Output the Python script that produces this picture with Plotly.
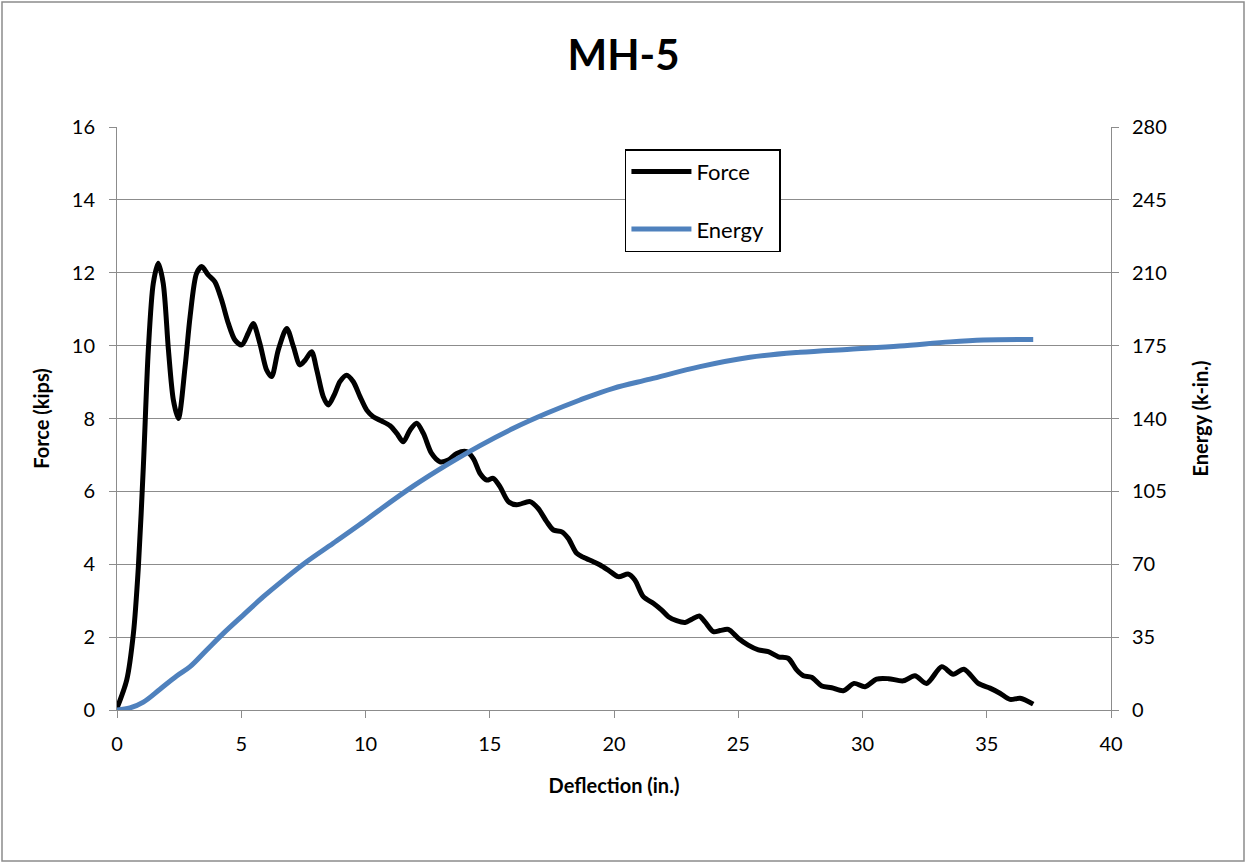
import plotly.graph_objects as go

# Force vs deflection
force_x = [0, 0.39, 0.66, 0.86, 1.06, 1.26, 1.46, 1.66, 1.86, 2.07, 2.27, 2.47, 2.74, 2.94, 3.2, 3.41,
           3.67, 3.94, 4.21, 4.48, 4.75, 5.02, 5.28, 5.48, 5.75, 6.02, 6.22, 6.49, 6.83, 7.1, 7.36,
           7.57, 7.83, 8.04, 8.3, 8.5, 8.77, 8.97, 9.24, 9.51, 9.78, 10.05, 10.31, 10.65, 10.99,
           11.26, 11.52, 11.79, 12.06, 12.33, 12.66, 13.0, 13.33, 13.67, 14.07, 14.34, 14.61, 14.88,
           15.14, 15.41, 15.75, 16.08, 16.62, 16.95, 17.29, 17.56, 17.9, 18.16, 18.5, 18.77, 19.17,
           19.44, 19.77, 20.17, 20.58, 20.84, 21.18, 21.58, 21.92, 22.19, 22.52, 22.86, 23.13, 23.43,
           23.66, 24.0, 24.27, 24.6, 25.0, 25.4, 25.81, 26.21, 26.61, 27.01, 27.35, 27.62, 27.95,
           28.36, 28.76, 29.23, 29.66, 30.1, 30.57, 31.04, 31.64, 32.11, 32.58, 33.19, 33.65, 34.08,
           34.66, 35.13, 35.53, 35.94, 36.34, 36.87]
force_y = [0.05, 0.82, 2.1, 3.93, 6.68, 9.88, 11.71, 12.26, 11.71, 9.88, 8.5, 8.0, 9.42, 10.79, 11.98, 12.17,
           11.94, 11.75, 11.25, 10.61, 10.15, 10.02, 10.34, 10.61, 10.06, 9.33, 9.15, 9.88, 10.47, 9.97, 9.47,
           9.6, 9.83, 9.33, 8.6, 8.37, 8.69, 9.01, 9.19, 9.01, 8.6, 8.23, 8.05, 7.93, 7.8,
           7.59, 7.36, 7.68, 7.87, 7.59, 7.04, 6.81, 6.86, 7.04, 7.09, 6.9, 6.49, 6.31,
           6.36, 6.13, 5.72, 5.63, 5.72, 5.53, 5.17, 4.94, 4.89, 4.71, 4.3, 4.19, 4.07,
           3.98, 3.84, 3.66, 3.73, 3.57, 3.11, 2.93, 2.74, 2.56, 2.45, 2.4, 2.49, 2.58,
           2.42, 2.15, 2.18, 2.21, 1.97, 1.78, 1.65, 1.6, 1.46, 1.42, 1.1, 0.94, 0.9,
           0.66, 0.61, 0.53, 0.73, 0.64, 0.85, 0.86, 0.8, 0.94, 0.73, 1.19, 0.98, 1.12,
           0.73, 0.6, 0.46, 0.29, 0.32, 0.16]

# Energy vs deflection
energy_x = [0, 0.52, 1.06, 1.73, 2.4, 2.94, 3.61, 4.28, 5.08, 5.89, 6.69, 7.63, 8.7, 10.05, 10.58,
            11.92, 13.27, 14.61, 15.95, 17.29, 18.63, 19.97, 21.45, 23.46, 25.47, 27.48, 29.5,
            31.5, 33.52, 34.86, 36.87]
energy_y = [0, 1.0, 3.8, 10.0, 16.3, 20.8, 28.8, 36.8, 45.6, 54.4, 62.4, 71.2, 80.1, 91.5, 96.2,
            107.5, 117.7, 127.0, 135.3, 142.5, 148.9, 154.5, 158.9, 164.9, 169.4, 171.8, 173.3,
            174.8, 176.8, 177.7, 178]

FONT = "Lato"
GRID = "#8c8c8c"

fig = go.Figure()
fig.add_trace(go.Scatter(x=force_x, y=force_y, name="Force\u00a0\u00a0", mode="lines",
                         line=dict(color="black", width=5, shape="spline", smoothing=0.8),
                         legendgroup="f"))
fig.add_trace(go.Scatter(x=energy_x, y=energy_y, name="Energy\u00a0\u00a0", mode="lines", yaxis="y2",
                         line=dict(color="#4F81BD", width=5, shape="spline", smoothing=1),
                         legendgroup="e"))

axis_common = dict(showline=True, linecolor=GRID, linewidth=1, ticks="outside", ticklen=7,
                   tickcolor=GRID, tickfont=dict(family=FONT, size=20, color="black"),
                   zeroline=False)

fig.update_layout(
    width=1247, height=863,
    paper_bgcolor="white", plot_bgcolor="white",
    margin=dict(l=117, r=136, t=127, b=153),
    title=dict(text="<b>MH-5</b>", x=0.5, xref="container", xanchor="center", y=0.936, yanchor="middle",
               font=dict(family=FONT, size=42, color="black")),
    xaxis=dict(range=[0, 40], dtick=5, showgrid=False, ticklabelstandoff=9,
               title=dict(text="<b>Deflection (in.)</b>", font=dict(family=FONT, size=20, color="black"),
                          standoff=24),
               **axis_common),
    yaxis=dict(range=[0, 16], dtick=2, showgrid=True, gridcolor=GRID, gridwidth=1, ticklabelstandoff=10,
               title=dict(text="<b>Force (kips)</b>", font=dict(family=FONT, size=20, color="black"),
                          standoff=16),
               **axis_common),
    yaxis2=dict(range=[0, 280], dtick=35, overlaying="y", side="right", showgrid=False, ticklabelstandoff=9,
                title=dict(text="<b>Energy (k-in.)</b>", font=dict(family=FONT, size=20, color="black"),
                           standoff=28),
                **axis_common),
    legend=dict(x=0.511, y=0.962, xanchor="left", yanchor="top", bordercolor="black", borderwidth=1.5,
                bgcolor="white", font=dict(family=FONT, size=22, color="black"),
                tracegroupgap=26, traceorder="grouped", itemwidth=60),
    showlegend=True,
)

# outer chart-area border
fig.add_shape(type="rect", xref="paper", yref="paper",
              x0=(2 - 117) / 994, x1=(1244 - 117) / 994,
              y0=(710 - 861) / 583, y1=(710 - 2) / 583,
              line=dict(color="#8c8c8c", width=1.5), fillcolor="rgba(0,0,0,0)", layer="below")

fig.write_html("out.html", config={"displayModeBar": False},
               post_script="document.body.style.margin='0px';document.body.style.overflow='hidden';")
